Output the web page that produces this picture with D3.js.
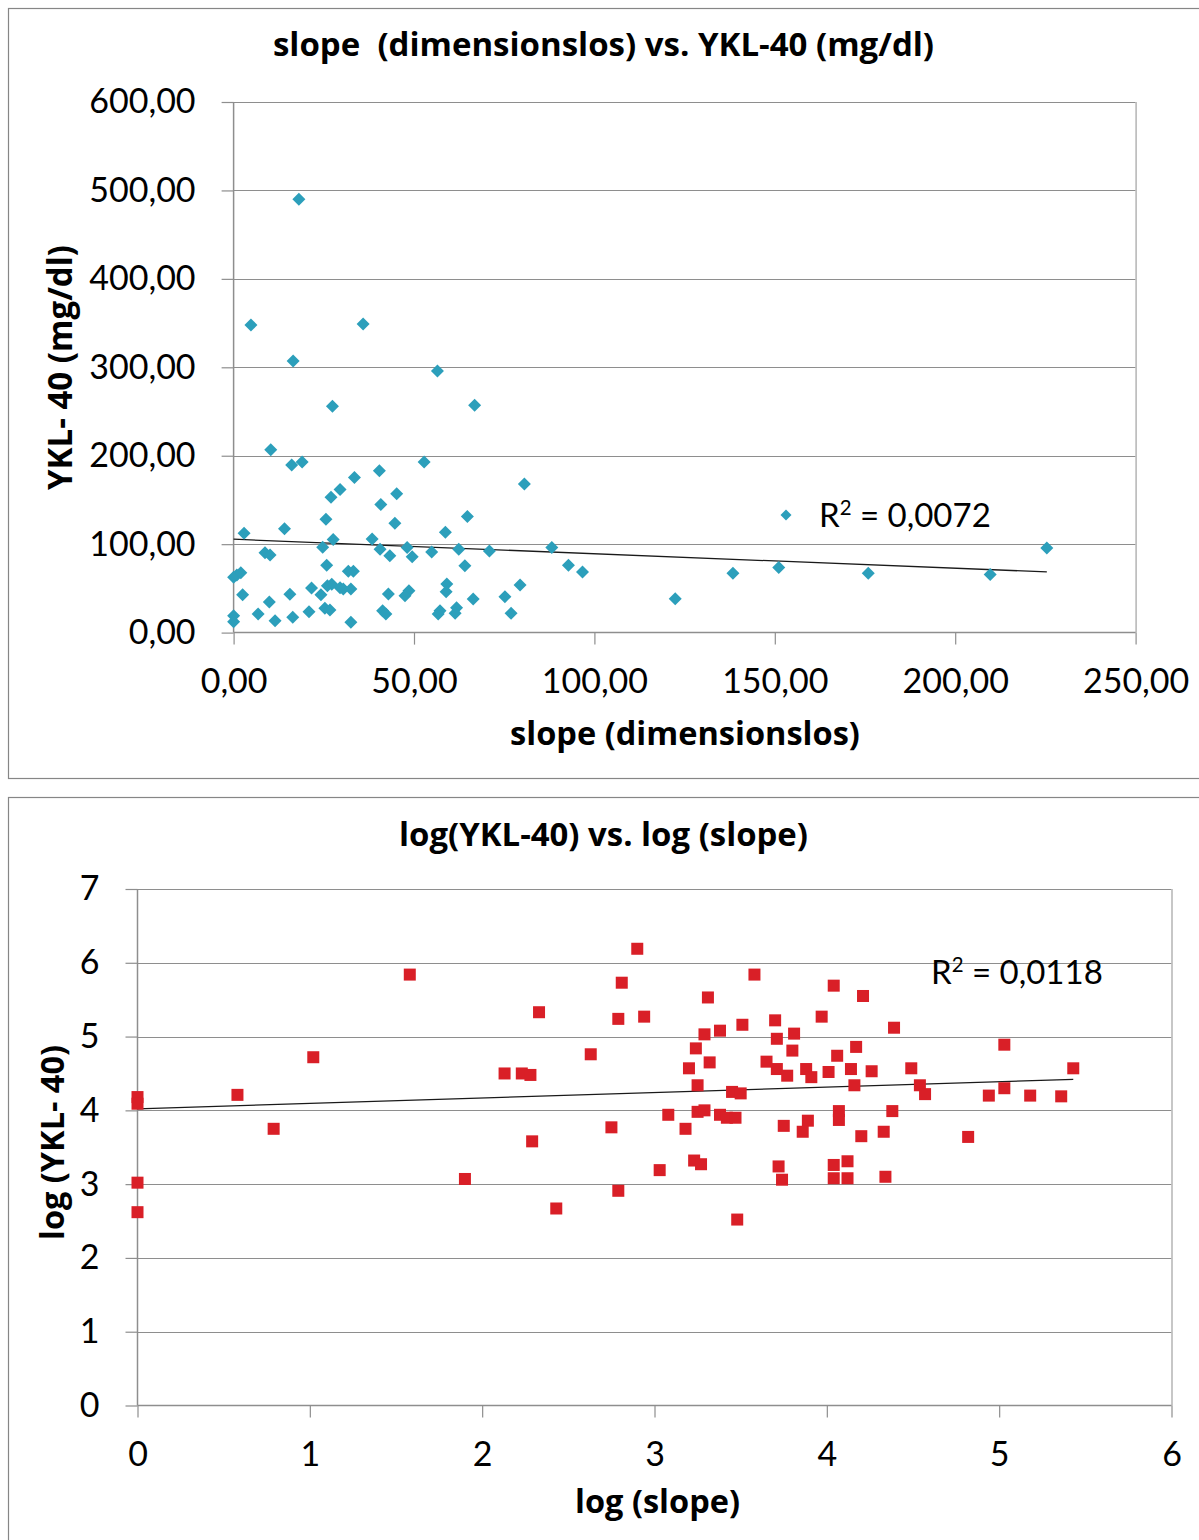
<!DOCTYPE html>
<html><head><meta charset="utf-8">
<script src="https://cdn.jsdelivr.net/npm/d3@7"></script>
<style>
html,body{margin:0;padding:0;background:#fff;}
svg{display:block;}
text{font-family:Lato,"Open Sans",sans-serif;fill:#000;}
</style></head>
<body>
<svg id="c" width="1199" height="1540"></svg>
<script>
// ---------- Chart 1 data: slope (dimensionslos) vs. YKL-40 (mg/dl) ----------
const slopeX = [18.1,4.8,35.9,16.5,56.5,27.4,66.8,10.3,19.0,52.8,16.1,33.5,40.4,29.5,27.0,45.2,80.6,40.8,25.6,64.8,
  2.9,14.1,44.7,58.7,27.6,38.4,24.7,40.6,48.1,62.4,70.9,88.2,8.7,10.1,43.3,49.5,54.9,25.8,64.1,0,
  0.9,2.0,31.8,33.2,59.1,21.6,26.0,27.2,29.5,30.4,32.5,58.9,48.6,47.5,79.4,2.5,15.6,24.2,42.9,66.4,
  75.2,9.9,25.3,26.7,41.3,42.2,57.2,56.7,61.8,61.4,20.9,6.8,76.9,0,0,11.5,16.4,32.5,92.8,96.7,
  122.4,138.4,151.1,175.9,209.7,225.4];
const yklY = [490,347.8,349,307,295.8,256,257,206.7,192.8,192.8,189.4,175.3,182.9,161.7,153.1,156.9,167.9,144.8,128.2,131.2,
  112.4,117.3,123.7,113.5,105.2,105.9,96.5,94.3,96.1,94.3,92.4,96.1,90.4,87.8,87.0,85.9,91.2,76.2,75.7,62.6,
  65.2,67.8,69.4,69.4,55.0,50.5,53.1,54.7,50.8,49.3,49.3,46.3,47.4,41.8,53.9,42.9,43.4,42.9,43.7,38.0,
  40.6,34.6,27.5,25.6,24.8,21.1,24.8,21.1,28.2,21.8,23.7,21.1,21.8,19.1,12.3,13.5,17.3,11.7,76.2,68.6,
  38.4,67.2,73.5,67.2,65.6,95.8];
const trend1 = [105.6, -0.164];       // intercept, slope
const trend1Range = [0, 225.4];
const xTicks1 = [0,50,100,150,200,250];
const yTicks1 = [0,100,200,300,400,500,600];
const r2Label1 = ["R", "2", " = 0,0072"];

// ---------- Chart 2 data: log(YKL-40) vs. log (slope) ----------
const logSlope = [0,0,0,0,0.58,1.02,0.79,1.58,1.90,2.13,2.23,2.28,2.33,2.29,2.43,
  2.90,2.81,3.58,3.31,4.04,2.79,2.94,3.29,3.38,3.51,3.70,3.97,3.81,3.71,2.63,3.24,3.80,4.06,3.32,3.20,
  3.65,3.71,3.77,3.88,3.91,4.01,3.25,3.45,3.50,3.08,3.25,3.29,3.38,3.42,3.47,2.75,3.18,3.75,3.89,3.86,
  4.07,4.07,3.03,3.23,3.27,3.72,3.74,4.04,4.04,2.79,3.48,
  4.12,4.12,4.21,4.39,4.17,4.14,4.26,4.16,4.49,4.54,4.57,4.38,4.33,4.20,4.34,5.03,5.43,5.03,4.94,5.18,5.36,4.82];
const logYKL = [4.18,4.09,3.02,2.62,4.21,4.72,3.75,5.84,3.07,4.50,4.50,4.48,5.33,3.58,2.67,
  6.19,5.73,5.84,5.53,5.69,5.24,5.27,5.03,5.08,5.16,5.22,5.27,5.04,4.97,4.76,4.84,4.81,4.74,4.65,4.57,
  4.66,4.56,4.47,4.56,4.45,4.52,4.34,4.25,4.23,3.94,3.98,4.00,3.94,3.90,3.90,3.77,3.75,3.79,3.86,3.71,
  3.99,3.87,3.19,3.32,3.27,3.24,3.06,3.26,3.08,2.91,2.52,
  3.31,3.08,5.55,5.12,4.86,4.56,4.53,4.34,4.57,4.34,4.22,3.99,3.71,3.65,3.10,4.89,4.57,4.30,4.20,4.20,4.19,3.64];
const trend2 = [4.02, 0.0737];
const trend2Range = [0, 5.43];
const xTicks2 = [0,1,2,3,4,5,6];
const yTicks2 = [0,1,2,3,4,5,6,7];
const r2Label2 = ["R", "2", " = 0,0118"];

const svg = d3.select("#c");
const GRID = "#8e8e8e";
const fmt2 = d => d3.format(".2f")(d).replace(".", ",");

// scale a text's font-size so that its rendered width matches a target width
function fitWidth(sel, target){
  const n = sel.node();
  const fs = parseFloat(sel.style("font-size"));
  const w = n.getComputedTextLength();
  if (w > 0) sel.style("font-size", (fs * target / w).toFixed(2) + "px");
  return sel;
}

function chart(o){
  const g = svg.append("g");
  // outer frame
  g.append("rect").attr("x",o.frame[0]+0.5).attr("y",o.frame[1]+0.5)
    .attr("width",o.frame[2]).attr("height",o.frame[3])
    .attr("fill","#fff").attr("stroke","#868686").attr("stroke-width",1.2);
  const x = d3.scaleLinear().domain(o.xDomain).range([o.L,o.R]);
  const y = d3.scaleLinear().domain(o.yDomain).range([o.B,o.T]);
  // gridlines
  g.append("g").selectAll("line").data(o.yTicks.filter(d=>d>0)).join("line")
    .attr("x1",o.L).attr("x2",o.R).attr("y1",d=>Math.round(y(d))+0.5).attr("y2",d=>Math.round(y(d))+0.5)
    .attr("stroke",GRID).attr("stroke-width",1.2);
  // right border of plot area
  g.append("line").attr("x1",o.R+0.5).attr("x2",o.R+0.5).attr("y1",o.T).attr("y2",o.B)
    .attr("stroke","#b4b4b4").attr("stroke-width",1.5);
  // axes
  const yAx = g.append("g").attr("transform",`translate(${o.L},0)`)
    .call(d3.axisLeft(y).tickValues(o.yTicks).tickSize(12).tickFormat(o.fmt).tickPadding(26));
  const xAx = g.append("g").attr("transform",`translate(0,${o.B})`)
    .call(d3.axisBottom(x).tickValues(o.xTicks).tickSize(12).tickFormat(o.fmt).tickPadding(o.xPad));
  [yAx,xAx].forEach(a=>{
    a.select(".domain").attr("stroke",GRID).attr("stroke-width",1.5);
    a.selectAll(".tick line").attr("stroke",GRID).attr("stroke-width",1.2);
    a.selectAll(".tick text").style("font-family","Lato, sans-serif").style("font-size",o.tickFont+"px").attr("fill","#000");
  });
  yAx.select(".domain").attr("d",`M0,${o.T}V${o.B}`);
  xAx.select(".domain").attr("d",`M${o.L},0H${o.R}`);
  // trendline
  g.append("line")
    .attr("x1",x(o.trendRange[0])).attr("y1",y(o.trend[0]+o.trend[1]*o.trendRange[0]))
    .attr("x2",x(o.trendRange[1])).attr("y2",y(o.trend[0]+o.trend[1]*o.trendRange[1]))
    .attr("stroke","#1a1a1a").attr("stroke-width",1.3);
  // points
  const pts = o.xs.map((v,i)=>[v,o.ys[i]]);
  if(o.marker==="diamond"){
    g.append("g").selectAll("path").data(pts).join("path")
      .attr("d","M0,-6.5L6.5,0L0,6.5L-6.5,0Z")
      .attr("transform",d=>`translate(${x(d[0])},${y(d[1])})`)
      .attr("fill",o.color);
  } else {
    g.append("g").selectAll("rect").data(pts).join("rect")
      .attr("x",d=>x(d[0])-6).attr("y",d=>y(d[1])-6).attr("width",12).attr("height",12)
      .attr("fill",o.color);
  }
  // titles
  const TF = "'Open Sans', Lato, sans-serif";
  fitWidth(g.append("text").attr("x",o.titlePos[0]).attr("y",o.titlePos[1]).attr("text-anchor","middle")
    .style("white-space","pre")
    .style("font-family",TF).style("font-weight","bold").style("font-size","30px").text(o.title), o.titleW);
  fitWidth(g.append("text").attr("x",o.xTitlePos[0]).attr("y",o.xTitlePos[1]).attr("text-anchor","middle")
    .style("font-family",TF).style("font-weight","bold").style("font-size","30px").text(o.xTitle), o.xTitleW);
  fitWidth(g.append("text").attr("transform",`translate(${o.yTitlePos[0]},${o.yTitlePos[1]}) rotate(-90)`)
    .attr("text-anchor","middle")
    .style("font-family",TF).style("font-weight","bold").style("font-size","30px").text(o.yTitle), o.yTitleW);
  // R² label
  if(o.legendMarker){
    g.append("path").attr("d","M0,-5.5L5.5,0L0,5.5L-5.5,0Z")
      .attr("transform",`translate(${o.legendMarker[0]},${o.legendMarker[1]})`).attr("fill",o.color);
  }
  const r2 = g.append("text").attr("x",o.r2Pos[0]).attr("y",o.r2Pos[1])
    .style("font-size",o.r2Font+"px");
  r2.append("tspan").text(o.r2[0]);
  r2.append("tspan").attr("dy",-12).style("font-size",(o.r2Font*0.62)+"px").text(o.r2[1]);
  r2.append("tspan").attr("dy",12).text(o.r2[2]);
}

chart({
  frame:[8,8,1210,770],
  L:233.6,R:1135.6,T:102,B:632.6,
  xDomain:[0,250], yDomain:[0,600],
  xTicks:xTicks1, yTicks:yTicks1, fmt:fmt2, tickFont:34, xPad:24,
  xs:slopeX, ys:yklY, marker:"diamond", color:"#2c9fbb",
  trend:trend1, trendRange:trend1Range,
  title:"slope  (dimensionslos) vs. YKL-40 (mg/dl)", titlePos:[603.5,56], titleW:661,
  xTitle:"slope (dimensionslos)", xTitlePos:[685,745], xTitleW:350,
  yTitle:"YKL- 40 (mg/dl)", yTitlePos:[72,367.5], yTitleW:245,
  r2:r2Label1, r2Pos:[819,527], r2Font:33, legendMarker:[786,515]
});

chart({
  frame:[8,797,1210,760],
  L:137.5,R:1171.5,T:889,B:1405.5,
  xDomain:[0,6], yDomain:[0,7],
  xTicks:xTicks2, yTicks:yTicks2, fmt:d3.format("d"), tickFont:34, xPad:24,
  xs:logSlope, ys:logYKL, marker:"square", color:"#d91f27",
  trend:trend2, trendRange:trend2Range,
  title:"log(YKL-40) vs. log (slope)", titlePos:[603.5,846], titleW:409,
  xTitle:"log (slope)", xTitlePos:[657.5,1513], xTitleW:165,
  yTitle:"log (YKL- 40)", yTitlePos:[64,1142.5], yTitleW:195,
  r2:r2Label2, r2Pos:[931,984], r2Font:33, legendMarker:null
});
</script>
</body></html>
